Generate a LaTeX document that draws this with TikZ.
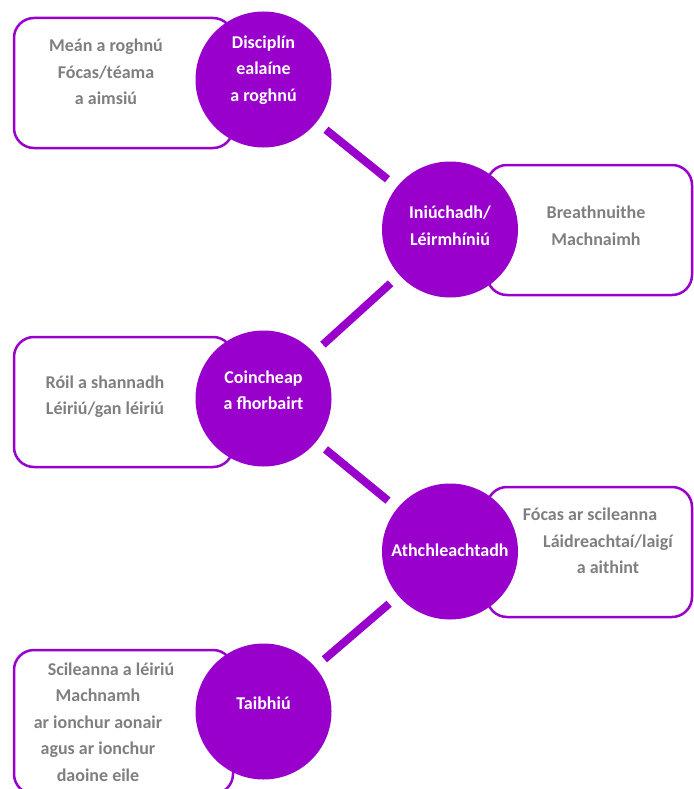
\documentclass[tikz,border=0pt]{standalone}
\usepackage{fontspec}
\setmainfont{Carlito}
\usetikzlibrary{positioning}
\definecolor{stagepurple}{HTML}{9900CC}
\definecolor{notegrey}{HTML}{7F7F7F}

\begin{document}
\begin{tikzpicture}[x=1pt, y=-1pt,
  stage/.style={circle, minimum size=136pt, inner sep=0pt, fill=stagepurple},
  stagetext/.style={inner sep=0pt, text=white, align=center, font=\bfseries\fontsize{18}{26.5}\selectfont},
  notebox/.style={rectangle, rounded corners=20pt, minimum width=219pt, minimum height=130pt, draw=stagepurple, line width=2.5pt},
  notetext/.style={inner sep=0pt, text=notegrey, align=center, font=\bfseries\fontsize{18}{26.5}\selectfont},
  link/.style={draw=stagepurple, line width=8pt, shorten <=12pt, shorten >=12pt}]
\useasboundingbox (0,0) rectangle (693,789);

% boxes behind the circles
\node[notebox] (choosebox) at (123.5,83) {};
\node[notebox, minimum width=205pt] (explorebox) at (589.5,230) {};
\node[notebox] (conceptbox) at (123.5,402) {};
\node[notebox, minimum width=205pt] (practicebox) at (589.5,552) {};
\node[notebox, minimum height=144pt] (performbox) at (123.5,722) {};

% stage circles
\node[stage] (discipline) at (263.5,79.5) {};
\node[stage] (explore) at (450,229.5) {};
\node[stage] (concept) at (263.5,398.5) {};
\node[stage] (practice) at (450,551.5) {};
\node[stage] (perform) at (263.5,711.5) {};

% Text positioned within circles
\node[stagetext] (disciplinetext) at ([yshift=9.5pt]discipline.center) {Disciplín\\ealaíne\\a roghnú};
\node[stagetext] (exploretext) at ([yshift=4pt]explore.center) {Iniúchadh/\\Léirmhíniú};
\node[stagetext] (concepttext) at ([yshift=8.5pt]concept.center) {Coincheap\\a fhorbairt};
\node[stagetext] (practicetext) at ([yshift=1.5pt]practice.center) {Athchleachtadh};
\node[stagetext] (performtext) at ([yshift=8.5pt]perform.center) {Taibhiú};

% Text within boxes
\node[notetext] (choosenote) at (106,72) {Meán a roghnú\\Fócas/téama\\a aimsiú};
\node[notetext] (explorenote) at (596,225.5) {Breathnuithe\\Machnaimh};
\node[notetext] (conceptnote) at (105,396.5) {Róil a shannadh\\Léiriú/gan léiriú};
\node[notetext] (practicenote) at (590,541) {Fócas ar scileanna\\\hspace*{36pt}Láidreachtaí/laigí\\\hspace*{36pt}a aithint};
\node[notetext] (performnote) at (98,722) {\hspace*{26pt}Scileanna a léiriú\\Machnamh\\ar ionchur aonair\\agus ar ionchur\\daoine eile};

\draw[link] (discipline) -- (explore);
\draw[link] (explore) -- (concept);
\draw[link] (concept) -- (practice);
\draw[link] (practice) -- (perform);
\end{tikzpicture}
\end{document}
